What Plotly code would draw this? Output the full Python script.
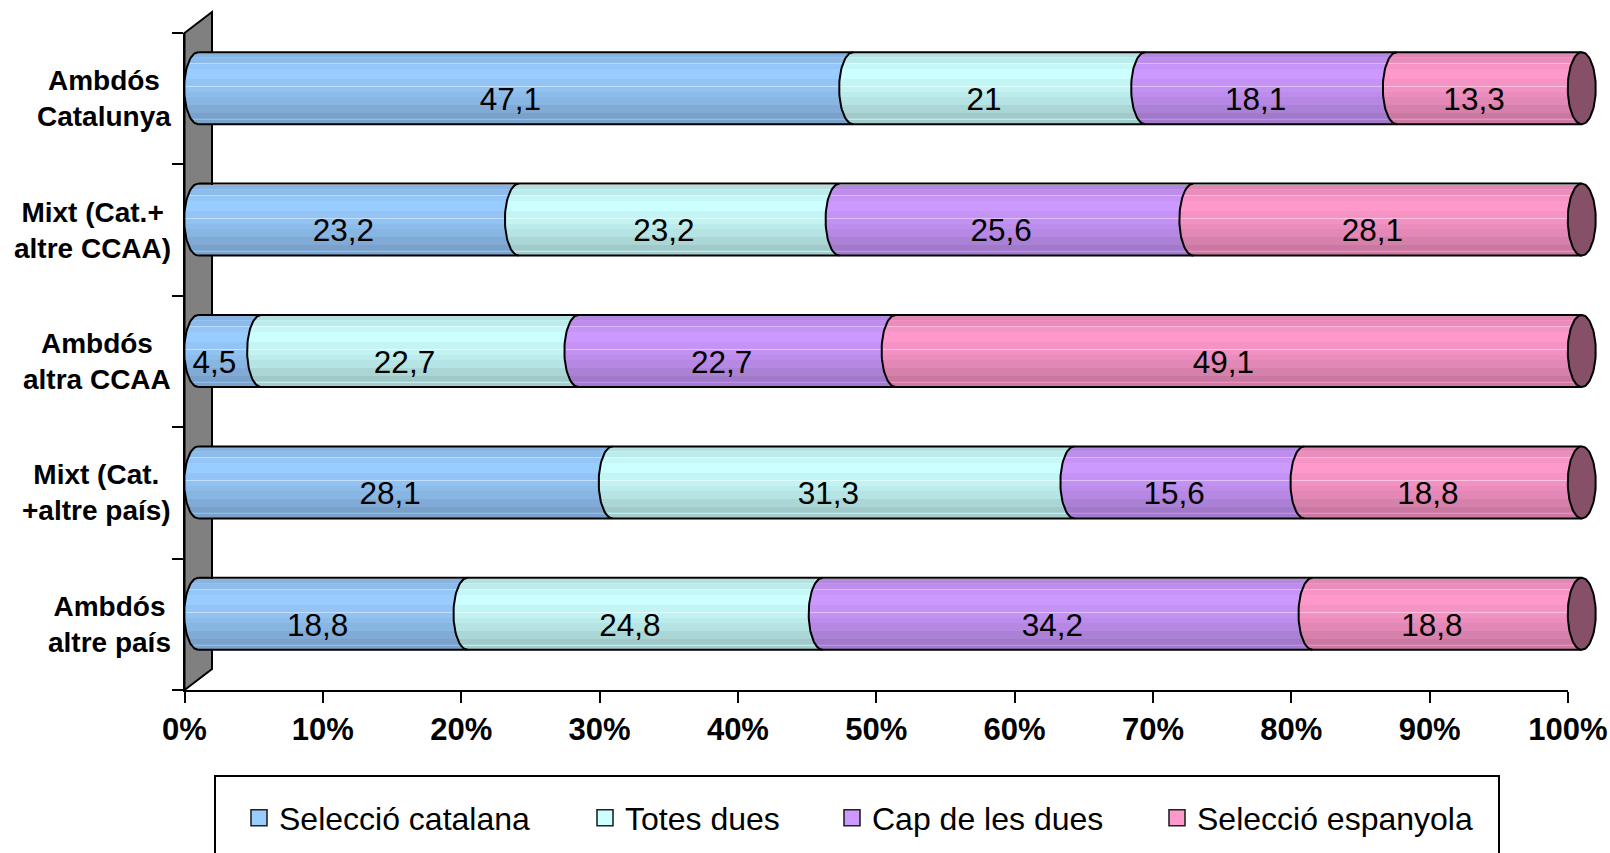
import math
import plotly.graph_objects as go

categories = ["Ambdós<br>Catalunya", "Mixt (Cat.+<br>altre CCAA)", "Ambdós<br>altra CCAA",
              "Mixt (Cat.<br>+altre país)", "Ambdós<br>altre país"]
series_names = ["Selecció catalana", "Totes dues", "Cap de les dues", "Selecció espanyola"]
seleccio_catalana = [47.1, 23.2, 4.5, 28.1, 18.8]
totes_dues = [21, 23.2, 22.7, 31.3, 24.8]
cap_de_les_dues = [18.1, 25.6, 22.7, 15.6, 34.2]
seleccio_espanyola = [13.3, 28.1, 49.1, 18.8, 18.8]
x_ticks = [0, 10, 20, 30, 40, 50, 60, 70, 80, 90, 100]

series_values = [seleccio_catalana, totes_dues, cap_de_les_dues, seleccio_espanyola]
base_colors = ["#99CCFF", "#CCFFFF", "#CC99FF", "#FF99CC"]
end_cap_color = "#855068"
wall_color = "#808080"

# vertical cylinder shading: (pixel rows, brightness); >1 blends toward white
shade_runs = [(4, .88), (1, .95), (5, .92), (1, 1.06), (5, .97), (10, 1.0), (7, .96), (1, 1.08),
              (5, .95), (5, .92), (8, .89), (8, .84), (5, .79), (1, .83), (1, .93), (3, .80)]
shades = [s for n, s in shade_runs for _ in range(n)]

W, H = 1610, 853
X0, X100, Y_TOP, Y_BOT = 184.5, 1568.0, 33.0, 690.0   # front axes, pixels
DEPTH_X, DEPTH_Y = 27.5, 21.0                         # 3-D depth of the chart, pixels
unit = (X100 - X0) / 100
band = (Y_BOT - Y_TOP) / len(categories)
BAR_PX = 72.0
CAP = 14.0 / unit                                     # ellipse half-width in axis units
bar_x0 = X0 + DEPTH_X / 2
bar_L, bar_R = 178.0, 1606.0
n_cat = len(categories)
idx = list(range(n_cat))
LABEL_DROP = 3.5 / band
LABEL_LEFT = 1.5 / unit


def hexrgb(h):
    return [int(h[i:i + 2], 16) for i in (1, 3, 5)]


def shaded(h, s):
    c = hexrgb(h)
    if s <= 1:
        c = [v * s for v in c]
    else:
        c = [v + (255 - v) * (s - 1) * 5 for v in c]
    return "rgb(%d,%d,%d)" % tuple(round(v) for v in c)


totals = [sum(s[i] for s in series_values) for i in idx]
shares = [[s[i] / totals[i] * 100 for i in idx] for s in series_values]

row_h = 1.0 / band
n_rows = len(shades)
row_off = [(r + .5 - n_rows / 2) * row_h for r in range(n_rows)]
row_t = [(r + .5 - n_rows / 2) / (BAR_PX / 2) for r in range(n_rows)]
row_s = [math.sqrt(max(0, 1 - t * t)) for t in row_t]

fig = go.Figure()

# stacked cylinder bodies, one row of pixels at a time
cum = [0.0] * n_cat
for k, name in enumerate(series_names):
    xs, bases, ys, cols = [], [], [], []
    for i in idx:
        for r in range(n_rows):
            xs.append(shares[k][i])
            bases.append(cum[i] - CAP * row_s[r])
            ys.append(i + row_off[r])
            cols.append(shaded(base_colors[k], shades[r]))
    fig.add_trace(go.Bar(x=xs, base=bases, y=ys, width=row_h * 1.02, orientation="h", name=name,
                         marker=dict(color=cols, line=dict(width=0)), showlegend=False,
                         hoverinfo="skip", xaxis="x", yaxis="y"))
    cum = [cum[i] + shares[k][i] for i in idx]

# outlines
half = BAR_PX / 2 / band
angles = [j / 40 * math.pi for j in range(81)]
ox, oy = [], []
cum = [0.0] * n_cat
for k in range(len(series_names)):
    for i in idx:
        ox += [cum[i] - CAP * math.sin(a) for a in angles[:41]] + [None]
        oy += [i - half * math.cos(a) for a in angles[:41]] + [None]
    cum = [cum[i] + shares[k][i] for i in idx]
for i in idx:
    ox += [0, 100, None, 0, 100, None]
    oy += [i - half, i - half, None, i + half, i + half, None]
fig.add_trace(go.Scatter(x=ox, y=oy, mode="lines", line=dict(color="black", width=2),
                         showlegend=False, hoverinfo="skip", xaxis="x", yaxis="y"))
# right-hand end caps
cx, cy = [], []
for i in idx:
    cx += [100 + CAP * math.sin(a) for a in angles] + [None]
    cy += [i - half * math.cos(a) for a in angles] + [None]
fig.add_trace(go.Scatter(x=cx, y=cy, mode="lines", fill="toself", fillcolor=end_cap_color,
                         line=dict(color="black", width=2), showlegend=False, hoverinfo="skip",
                         xaxis="x", yaxis="y"))

# data labels on the front axes
cum = [0.0] * n_cat
for k in range(len(series_names)):
    fig.add_trace(go.Scatter(
        x=[cum[i] + shares[k][i] / 2 - LABEL_LEFT for i in idx], y=[i + LABEL_DROP for i in idx], mode="text",
        text=[f"{v:g}".replace(".", ",") for v in series_values[k]],
        textposition="middle center", textfont=dict(family="Liberation Sans", size=31.5, color="black"),
        showlegend=False, hoverinfo="skip", xaxis="x2", yaxis="y2", cliponaxis=False))
    cum = [cum[i] + shares[k][i] for i in idx]

# legend entries, each in its own legend so they sit where the reference has them
legend_left = [239, 585, 832, 1157]
legend_ids = ["legend", "legend2", "legend3", "legend4"]
legend_layout = {}
for k, name in enumerate(series_names):
    fig.add_trace(go.Scatter(x=[None], y=[None], mode="markers", name=name, legend=legend_ids[k],
                             marker=dict(symbol="square", size=16, color=base_colors[k],
                                         line=dict(color="#222222", width=1.6)),
                             xaxis="x2", yaxis="y2", hoverinfo="skip"))
    legend_layout[legend_ids[k]] = dict(
        x=legend_left[k] / W, xanchor="left",
        y=1 - 818 / H, yanchor="middle",
        bgcolor="rgba(0,0,0,0)", borderwidth=0, itemsizing="trace",
        font=dict(family="Liberation Sans", size=32, color="black"))

annotations = [dict(text=c, x=173 / W, xref="paper", xanchor="right", y=i, yref="y2", yanchor="middle",
                    align="center", showarrow=False,
                    font=dict(family="Liberation Sans", size=28, color="black", weight="bold"))
               for i, c in enumerate(categories)]


def path(pts):
    return "M" + " L".join(f"{x:.5f},{y:.5f}" for x, y in pts) + " Z"


shapes = [
    dict(type="path", xref="paper", yref="paper", layer="below", fillcolor=wall_color,
         line=dict(color="black", width=2),
         path=path([(X0 / W, 1 - Y_TOP / H), ((X0 + DEPTH_X) / W, 1 - (Y_TOP - DEPTH_Y) / H),
                    ((X0 + DEPTH_X) / W, 1 - (Y_BOT - DEPTH_Y) / H), (X0 / W, 1 - Y_BOT / H)])),
    dict(type="rect", xref="paper", yref="paper", x0=215 / W, x1=1499 / W, y0=-0.1, y1=1 - 776 / H,
         line=dict(color="black", width=2), layer="below"),
]

fig.update_layout(
    width=W, height=H, margin=dict(l=0, r=0, t=0, b=0, autoexpand=False), autosize=False,
    paper_bgcolor="white", plot_bgcolor="rgba(0,0,0,0)", barmode="overlay", bargap=0,
    xaxis=dict(domain=[bar_L / W, bar_R / W], range=[(bar_L - bar_x0) / unit, (bar_R - bar_x0) / unit],
               visible=False, anchor="y"),
    yaxis=dict(domain=[1 - (Y_BOT - DEPTH_Y / 2) / H, 1 - (Y_TOP - DEPTH_Y / 2) / H],
               range=[n_cat - .5, -.5], visible=False, anchor="x"),
    xaxis2=dict(domain=[X0 / W, X100 / W], range=[0, 100], anchor="y2", tickmode="array", tickvals=x_ticks,
                ticktext=[f"{t}%" for t in x_ticks], ticks="outside", ticklen=11, tickwidth=2, tickcolor="black",
                showline=True, linecolor="black", linewidth=2, showgrid=False, zeroline=False,
                tickfont=dict(family="Liberation Sans", size=31, color="black", weight="bold")),
    yaxis2=dict(domain=[1 - Y_BOT / H, 1 - Y_TOP / H], range=[n_cat - .5, -.5], anchor="x2", tickmode="array",
                tickvals=[i - .5 for i in range(n_cat + 1)], ticktext=[""] * (n_cat + 1), ticks="outside",
                ticklen=11, tickwidth=2, tickcolor="black", showline=True, linecolor="black", linewidth=2,
                showgrid=False, zeroline=False),
    annotations=annotations, shapes=shapes, **legend_layout,
)

fig.write_html("out.html", config=dict(displayModeBar=False),
               post_script="document.body.style.margin='0';document.documentElement.style.overflow='hidden';")
